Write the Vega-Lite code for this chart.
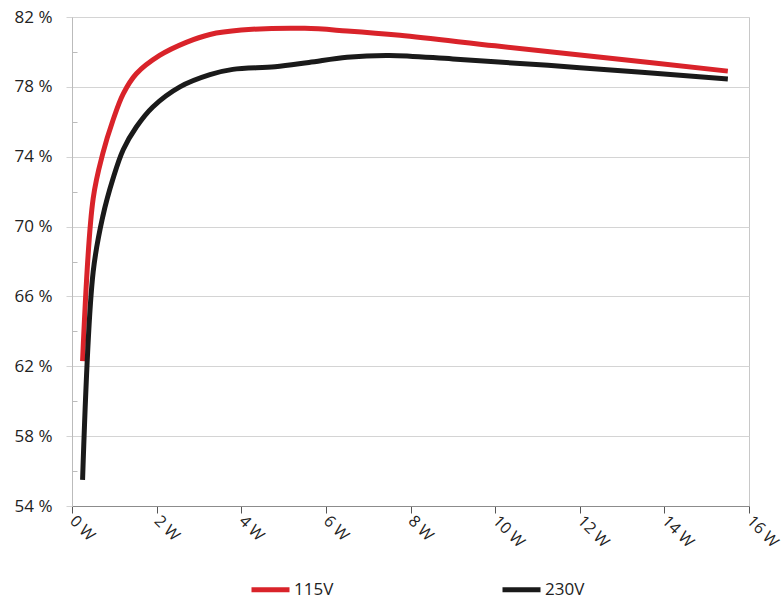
{
  "$schema": "https://vega.github.io/schema/vega-lite/v6.json",
  "width": 677,
  "height": 489,
  "autosize": {"type": "none"},
  "padding": {"left": 72, "top": 17, "right": 35, "bottom": 93},
  "background": "white",
  "config": {
    "view": {"stroke": "#c8c8c8", "strokeWidth": 1},
    "font": "Open Sans"
  },
  "data": {
    "values": [
      {"p": 0.25, "eff": 62.3, "series": "115V"},
      {"p": 0.5, "eff": 71.6, "series": "115V"},
      {"p": 0.73, "eff": 74.2, "series": "115V"},
      {"p": 0.97, "eff": 76.1, "series": "115V"},
      {"p": 1.21, "eff": 77.6, "series": "115V"},
      {"p": 1.52, "eff": 78.75, "series": "115V"},
      {"p": 2.07, "eff": 79.8, "series": "115V"},
      {"p": 2.7, "eff": 80.55, "series": "115V"},
      {"p": 3.26, "eff": 81.0, "series": "115V"},
      {"p": 4.0, "eff": 81.25, "series": "115V"},
      {"p": 5.5, "eff": 81.35, "series": "115V"},
      {"p": 6.5, "eff": 81.2, "series": "115V"},
      {"p": 7.75, "eff": 80.95, "series": "115V"},
      {"p": 10.0, "eff": 80.35, "series": "115V"},
      {"p": 12.5, "eff": 79.7, "series": "115V"},
      {"p": 15.5, "eff": 78.9, "series": "115V"},
      {"p": 0.25, "eff": 55.5, "series": "230V"},
      {"p": 0.5, "eff": 67.4, "series": "230V"},
      {"p": 0.73, "eff": 70.6, "series": "230V"},
      {"p": 0.97, "eff": 72.75, "series": "230V"},
      {"p": 1.21, "eff": 74.4, "series": "230V"},
      {"p": 1.52, "eff": 75.7, "series": "230V"},
      {"p": 1.91, "eff": 76.85, "series": "230V"},
      {"p": 2.55, "eff": 78.0, "series": "230V"},
      {"p": 3.26, "eff": 78.7, "series": "230V"},
      {"p": 3.8, "eff": 79.0, "series": "230V"},
      {"p": 4.8, "eff": 79.15, "series": "230V"},
      {"p": 5.6, "eff": 79.4, "series": "230V"},
      {"p": 6.5, "eff": 79.7, "series": "230V"},
      {"p": 7.5, "eff": 79.8, "series": "230V"},
      {"p": 9.0, "eff": 79.6, "series": "230V"},
      {"p": 12.0, "eff": 79.1, "series": "230V"},
      {"p": 15.5, "eff": 78.45, "series": "230V"}
    ]
  },
  "mark": {"type": "line", "strokeWidth": 5, "interpolate": "catmull-rom", "strokeCap": "butt"},
  "encoding": {
    "x": {
      "field": "p",
      "type": "quantitative",
      "scale": {"domain": [0, 16], "nice": false, "zero": false},
      "axis": {
        "title": null,
        "values": [0, 2, 4, 6, 8, 10, 12, 14, 16],
        "labelExpr": "datum.value + ' W'",
        "grid": false,
        "domainColor": "#8c8c8c",
        "tickColor": "#555555",
        "tickSize": 7,
        "labelAngle": 45,
        "labelAlign": "left",
        "labelBaseline": "middle",
        "labelPadding": 5,
        "labelFontSize": 16,
        "labelColor": "#222222"
      }
    },
    "y": {
      "field": "eff",
      "type": "quantitative",
      "scale": {"domain": [54, 82], "nice": false, "zero": false},
      "axis": {
        "title": null,
        "values": [54, 56, 58, 60, 62, 64, 66, 68, 70, 72, 74, 76, 78, 80, 82],
        "labelExpr": "datum.value % 4 == 0 ? '' : datum.value + ' %'",
        "gridColor": {"condition": {"test": "datum.value % 4 == 0", "value": "transparent"}, "value": "#d4d4d4"},
        "tickSize": {"condition": {"test": "datum.value % 4 == 0", "value": -5}, "value": 6},
        "tickColor": {"condition": {"test": "datum.value % 4 == 0", "value": "#bbbbbb"}, "value": "#d4d4d4"},
        "domainColor": "#bbbbbb",
        "labelPadding": 14,
        "labelFontSize": 17,
        "labelColor": "#222222"
      }
    },
    "color": {
      "field": "series",
      "type": "nominal",
      "scale": {"domain": ["115V", "230V"], "range": ["#d9232a", "#1a1a1a"]},
      "legend": {
        "title": null,
        "orient": "none",
        "direction": "horizontal",
        "legendX": 177,
        "legendY": 551,
        "symbolType": "stroke",
        "symbolSize": 1444,
        "symbolStrokeWidth": 5,
        "labelOffset": 2,
        "columnPadding": 158,
        "labelFontSize": 17,
        "labelColor": "#222222",
        "padding": 0
      }
    }
  }
}
